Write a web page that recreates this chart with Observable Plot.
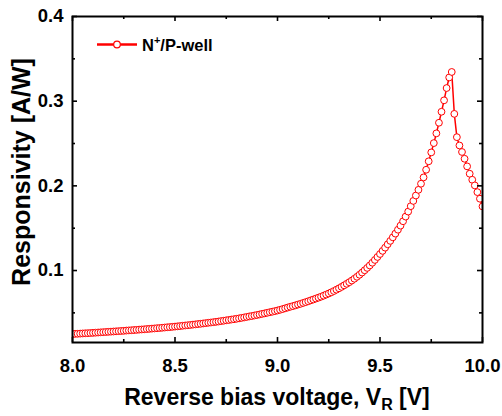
<!DOCTYPE html>
<html>
<head>
<meta charset="utf-8">
<script src="https://cdn.jsdelivr.net/npm/d3@7"></script>
<script src="https://cdn.jsdelivr.net/npm/@observablehq/plot@0.6"></script>
<style>
  html, body { margin: 0; padding: 0; background: white; }
  #chart svg { display: block; }
</style>
</head>
<body>
<div id="chart"></div>
<script>
// Reverse bias voltage V_R [V]
const voltage = [
  8,8.0125,8.025,8.0375,8.05,8.0625,8.075,8.0875,
  8.1,8.1125,8.125,8.1375,8.15,8.1625,8.175,8.1875,
  8.2,8.2125,8.225,8.2375,8.25,8.2625,8.275,8.2875,
  8.3,8.3125,8.325,8.3375,8.35,8.3625,8.375,8.3875,
  8.4,8.4125,8.425,8.4375,8.45,8.4625,8.475,8.4875,
  8.5,8.5125,8.525,8.5375,8.55,8.5625,8.575,8.5875,
  8.6,8.6125,8.625,8.6375,8.65,8.6625,8.675,8.6875,
  8.7,8.7125,8.725,8.7375,8.75,8.7625,8.775,8.7875,
  8.8,8.8125,8.825,8.8375,8.85,8.8625,8.875,8.8875,
  8.9,8.9125,8.925,8.9375,8.95,8.9625,8.975,8.9875,
  9,9.0125,9.025,9.0375,9.05,9.0625,9.075,9.0875,
  9.1,9.1125,9.125,9.1375,9.15,9.1625,9.175,9.1875,
  9.2,9.2125,9.225,9.2375,9.25,9.2625,9.275,9.2875,
  9.3,9.3125,9.325,9.3375,9.35,9.3625,9.375,9.3875,
  9.4,9.4125,9.425,9.4375,9.45,9.4625,9.475,9.4875,
  9.5,9.5125,9.525,9.5375,9.55,9.5625,9.575,9.5875,
  9.6,9.6125,9.625,9.6375,9.65,9.6625,9.675,9.6875,
  9.7,9.7125,9.725,9.7375,9.75,9.7625,9.775,9.7875,
  9.8,9.8125,9.825,9.8375,9.85,9.8625,9.875,9.8875,
  9.9,9.9125,9.925,9.9375,9.95,9.9625,9.975,9.9875,
  10
];
// Responsivity [A/W], N+/P-well
const responsivity = [
  0.0250,0.0252,0.0253,0.0255,0.0257,0.0259,0.0260,0.0262,
  0.0264,0.0266,0.0268,0.0270,0.0272,0.0274,0.0276,0.0278,
  0.0280,0.0282,0.0284,0.0286,0.0288,0.0291,0.0293,0.0295,
  0.0297,0.0299,0.0302,0.0304,0.0306,0.0309,0.0311,0.0314,
  0.0316,0.0319,0.0321,0.0324,0.0327,0.0330,0.0332,0.0335,
  0.0338,0.0341,0.0344,0.0348,0.0351,0.0354,0.0357,0.0361,
  0.0364,0.0368,0.0371,0.0375,0.0379,0.0383,0.0386,0.0390,
  0.0394,0.0398,0.0403,0.0407,0.0412,0.0416,0.0421,0.0425,
  0.0430,0.0435,0.0441,0.0446,0.0452,0.0458,0.0463,0.0469,
  0.0475,0.0481,0.0488,0.0494,0.0501,0.0508,0.0514,0.0521,
  0.0528,0.0536,0.0545,0.0554,0.0563,0.0572,0.0580,0.0589,
  0.0598,0.0607,0.0617,0.0627,0.0637,0.0648,0.0658,0.0669,
  0.0680,0.0691,0.0703,0.0716,0.0729,0.0743,0.0758,0.0774,
  0.0790,0.0807,0.0825,0.0843,0.0862,0.0882,0.0903,0.0926,
  0.0950,0.0976,0.1003,0.1031,0.1060,0.1092,0.1125,0.1160,
  0.1195,0.1232,0.1270,0.1310,0.1350,0.1392,0.1436,0.1482,
  0.1530,0.1582,0.1637,0.1696,0.1760,0.1822,0.1886,0.1953,
  0.2025,0.2100,0.2190,0.2290,0.2395,0.2505,0.2620,0.2745,
  0.2875,0.3010,0.3155,0.3280,0.3345,0.2850,0.2575,0.2477,
  0.2400,0.2320,0.2230,0.2143,0.2072,0.2005,0.1926,0.1848,
  0.1757
];
const xMajor = [8, 8.5, 9, 9.5, 10];
const xMinor = [8.25, 8.75, 9.25, 9.75];
const yMajor = [0.1, 0.2, 0.3, 0.4];
const yMinor = [0.05, 0.15, 0.25, 0.35];
const seriesName = "N";
const seriesSup = "+";
const seriesRest = "/P-well";
const xTitle = "Reverse bias voltage, V";
const xTitleSub = "R";
const xTitleEnd = " [V]";
const yTitle = "Responsivity [A/W]";

const data = voltage.map((v, i) => ({v, r: responsivity[i]}));

const W = 502, H = 416;
const mL = 72, mR = 20, mT = 16, mB = 74;
const innerW = W - mL - mR, innerH = H - mT - mB;
const RED = "#ff0000";
const FONT = "'Liberation Sans', Arial, Helvetica, sans-serif";

const chart = Plot.plot({
  width: W, height: H,
  marginLeft: mL, marginRight: mR, marginTop: mT, marginBottom: mB,
  x: {domain: [8, 10]},
  y: {domain: [0.015, 0.4]},
  style: {fontFamily: FONT, fontWeight: "bold", background: "white", color: "black"},
  marks: [
    Plot.line(data, {x: "v", y: "r", stroke: RED, strokeWidth: 1.5, clip: true}),
    Plot.dot(data, {x: "v", y: "r", r: 3.4, stroke: RED, strokeWidth: 1, fill: "white", clip: true}),
    // inward ticks: bottom / top
    Plot.tickX(xMajor, {x: d => d, insetTop: innerH - 5, stroke: "black", strokeWidth: 1.6}),
    Plot.tickX(xMinor, {x: d => d, insetTop: innerH - 3, stroke: "black", strokeWidth: 1.6}),
    Plot.tickX(xMajor, {x: d => d, insetBottom: innerH - 5, stroke: "black", strokeWidth: 1.6}),
    Plot.tickX(xMinor, {x: d => d, insetBottom: innerH - 3, stroke: "black", strokeWidth: 1.6}),
    // inward ticks: left / right
    Plot.tickY(yMajor, {y: d => d, insetRight: innerW - 5, stroke: "black", strokeWidth: 1.6}),
    Plot.tickY(yMinor, {y: d => d, insetRight: innerW - 3, stroke: "black", strokeWidth: 1.6}),
    Plot.tickY(yMajor, {y: d => d, insetLeft: innerW - 5, stroke: "black", strokeWidth: 1.6}),
    Plot.tickY(yMinor, {y: d => d, insetLeft: innerW - 3, stroke: "black", strokeWidth: 1.6}),
    Plot.frame({stroke: "black", strokeWidth: 2}),
    Plot.axisX(xMajor, {tickSize: 0, tickPadding: 16, tickFormat: d => d.toFixed(1), fontSize: 18.5, fontWeight: "bold", label: null}),
    Plot.axisY(yMajor, {tickSize: 0, tickPadding: 9, tickFormat: d => d.toFixed(1), fontSize: 18.5, fontWeight: "bold", label: null})
  ]
});

document.getElementById("chart").appendChild(chart);

const svg = d3.select(chart);
// x title
const xt = svg.append("text")
  .attr("x", 277).attr("y", 405)
  .attr("text-anchor", "middle")
  .style("font-family", FONT).style("font-weight", "bold").style("font-size", "23px")
  .attr("fill", "black");
xt.append("tspan").text(xTitle);
xt.append("tspan").attr("dy", 5).style("font-size", "16px").text(xTitleSub);
xt.append("tspan").attr("dy", -5).text(xTitleEnd);
// y title
svg.append("text")
  .attr("transform", "translate(30,172) rotate(-90)")
  .attr("text-anchor", "middle")
  .style("font-family", FONT).style("font-weight", "bold").style("font-size", "25px")
  .attr("fill", "black")
  .text(yTitle);
// legend
const lg = svg.append("g");
lg.append("line").attr("x1", 97).attr("x2", 137).attr("y1", 44.5).attr("y2", 44.5)
  .attr("stroke", RED).attr("stroke-width", 2.5);
lg.append("circle").attr("cx", 117).attr("cy", 44.5).attr("r", 3.3)
  .attr("fill", "white").attr("stroke", RED).attr("stroke-width", 1.2);
const lt = lg.append("text").attr("x", 142).attr("y", 50.5)
  .attr("text-anchor", "start")
  .style("font-family", FONT).style("font-weight", "bold").style("font-size", "16.5px")
  .attr("fill", "black");
lt.append("tspan").text(seriesName);
lt.append("tspan").attr("dy", -6.5).style("font-size", "11px").text(seriesSup);
lt.append("tspan").attr("dy", 6.5).text(seriesRest);
</script>
</body>
</html>
